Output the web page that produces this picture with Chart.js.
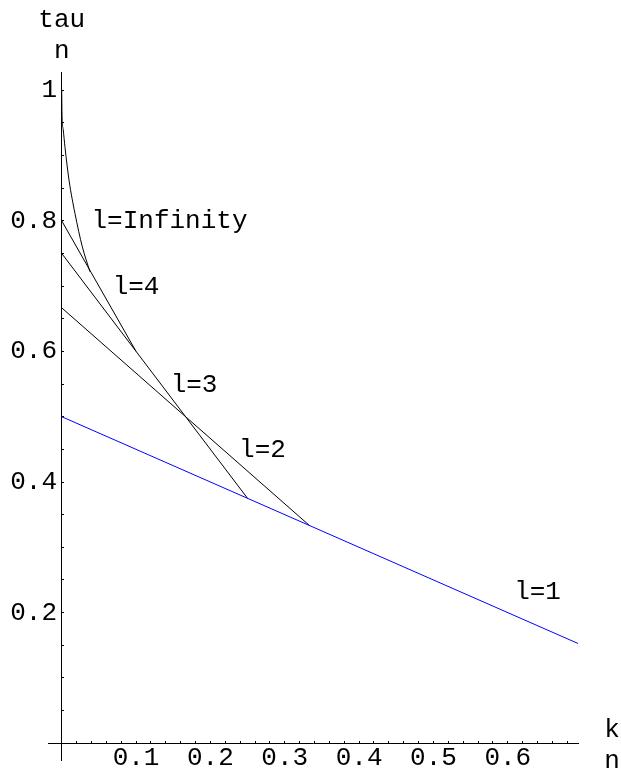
<!DOCTYPE html>
<html>
<head>
<meta charset="utf-8">
<script src="https://cdn.jsdelivr.net/npm/chart.js@4.4.1/dist/chart.umd.min.js"></script>
<style>
  html, body { margin: 0; padding: 0; background: #fff; }
  canvas { display: block; }
</style>
</head>
<body>
<canvas id="chart" width="621" height="774"></canvas>
<script>
// l=1 (blue)
const k1   = [0, 0.695];
const tau1 = [0.5, 0.1525];
// l=2
const k2   = [0, 0.3333];
const tau2 = [0.6667, 0.3333];
// l=3
const k3   = [0, 0.25];
const tau3 = [0.75, 0.375];
// l=4
const k4   = [0, 0.1];
const tau4 = [0.8, 0.6];
// l=Infinity curve
const kInf   = [0, 0.0005, 0.002, 0.0045, 0.0099, 0.0179, 0.0278, 0.038];
const tauInf = [1.0, 0.96, 0.94, 0.912, 0.862, 0.811, 0.760, 0.722];

// in-plot labels
const labelText = ["l=Infinity", "l=4", "l=3", "l=2", "l=1"];
const labelK    = [0.145, 0.1, 0.178, 0.27, 0.64];
const labelTau  = [0.8, 0.7, 0.55, 0.45, 0.232];

// ticks
const xTicks = [0.02, 0.04, 0.06, 0.08, 0.1, 0.12, 0.14, 0.16, 0.18, 0.2,
                0.22, 0.24, 0.26, 0.28, 0.3, 0.32, 0.34, 0.36, 0.38, 0.4,
                0.42, 0.44, 0.46, 0.48, 0.5, 0.52, 0.54, 0.56, 0.58, 0.6,
                0.62, 0.64, 0.66, 0.68];
const xTickLabels = ["0.1", "0.2", "0.3", "0.4", "0.5", "0.6"];
const xLabelTicks = [0.1, 0.2, 0.3, 0.4, 0.5, 0.6];
const yTicks = [0.05, 0.1, 0.15, 0.2, 0.25, 0.3, 0.35, 0.4, 0.45, 0.5,
                0.55, 0.6, 0.65, 0.7, 0.75, 0.8, 0.85, 0.9, 0.95, 1.0];
const yLabelTicks = [0.2, 0.4, 0.6, 0.8, 1.0];
const yTickLabels = ["0.2", "0.4", "0.6", "0.8", "1"];

const X_MIN = -0.0184, X_MAX = 0.6944;
const Y_MIN = -0.0256, Y_MAX = 1.0277;

function pts(ks, ts) {
    return ks.map((k, i) => ({ x: k, y: ts[i] }));
}

function lineSet(ks, ts, color) {
    return {
        data: pts(ks, ts),
        showLine: true,
        borderColor: color,
        borderWidth: 1,
        pointRadius: 0,
        fill: false
    };
}

function labelFor(values, labels) {
    return function (v) {
        const i = values.findIndex(t => Math.abs(t - v) < 1e-6);
        return i >= 0 ? labels[i] : "";
    };
}

Chart.defaults.font.family = "'Liberation Mono', 'DejaVu Sans Mono', monospace";
Chart.defaults.font.size = 26;
Chart.defaults.color = "#000";

// Mathematica style text: labels and axis names
const textPlugin = {
    id: "mmaText",
    afterDraw(chart) {
        const { ctx, scales: { x, y } } = chart;
        ctx.save();
        ctx.fillStyle = "#000";
        ctx.font = "26px 'Liberation Mono', monospace";
        ctx.textAlign = "center";
        ctx.textBaseline = "alphabetic";
        for (let i = 0; i < labelText.length; i++) {
            ctx.fillText(labelText[i], x.getPixelForValue(labelK[i]), y.getPixelForValue(labelTau[i]) + 7.5);
        }
        const x0 = x.getPixelForValue(0);
        const y0 = y.getPixelForValue(0);
        ctx.fillText("tau", x0, chart.chartArea.top - 45);
        ctx.fillText("n", x0, chart.chartArea.top - 14);
        ctx.fillText("k", chart.chartArea.right + 34, y0 - 6);
        ctx.fillText("n", chart.chartArea.right + 34, y0 + 25);
        ctx.restore();
    }
};

new Chart(document.getElementById("chart").getContext("2d"), {
    type: "scatter",
    data: {
        datasets: [
            lineSet(k1, tau1, "rgb(0, 0, 255)"),
            lineSet(k2, tau2, "#000"),
            lineSet(k3, tau3, "#000"),
            lineSet(k4, tau4, "#000"),
            Object.assign(lineSet(kInf, tauInf, "#000"), { cubicInterpolationMode: "monotone" })
        ]
    },
    options: {
        responsive: false,
        animation: false,
        events: [],
        layout: { padding: { left: 8, right: 43, top: 72, bottom: 14 } },
        plugins: { legend: { display: false }, tooltip: { enabled: false } },
        scales: {
            x: {
                type: "linear",
                position: { y: 0 },
                min: X_MIN,
                max: X_MAX,
                afterBuildTicks: s => { s.ticks = xTicks.map(v => ({ value: v })); },
                ticks: {
                    autoSkip: false,
                    maxRotation: 0,
                    padding: 5,
                    font: { lineHeight: 1 },
                    callback: labelFor(xLabelTicks, xTickLabels)
                },
                grid: { drawOnChartArea: false, drawTicks: true, tickLength: -3, color: "#000", lineWidth: 1 },
                border: { display: true, color: "#000", width: 1 }
            },
            y: {
                type: "linear",
                position: { x: 0 },
                min: Y_MIN,
                max: Y_MAX,
                afterBuildTicks: s => { s.ticks = yTicks.map(v => ({ value: v })); },
                ticks: { display: false },
                grid: { drawOnChartArea: false, drawTicks: true, tickLength: -3, color: "#000", lineWidth: 1 },
                border: { display: true, color: "#000", width: 1 }
            },
            yLabels: {
                type: "linear",
                axis: "y",
                position: "left",
                min: Y_MIN,
                max: Y_MAX,
                afterBuildTicks: s => { s.ticks = yLabelTicks.map(v => ({ value: v })); },
                afterFit: s => { s.width = 40; },
                ticks: {
                    autoSkip: false,
                    mirror: true,
                    crossAlign: "far",
                    padding: -37.8,
                    callback: labelFor(yLabelTicks, yTickLabels)
                },
                grid: { display: false, drawTicks: false },
                border: { display: false }
            }
        }
    },
    plugins: [textPlugin]
});
</script>
</body>
</html>
